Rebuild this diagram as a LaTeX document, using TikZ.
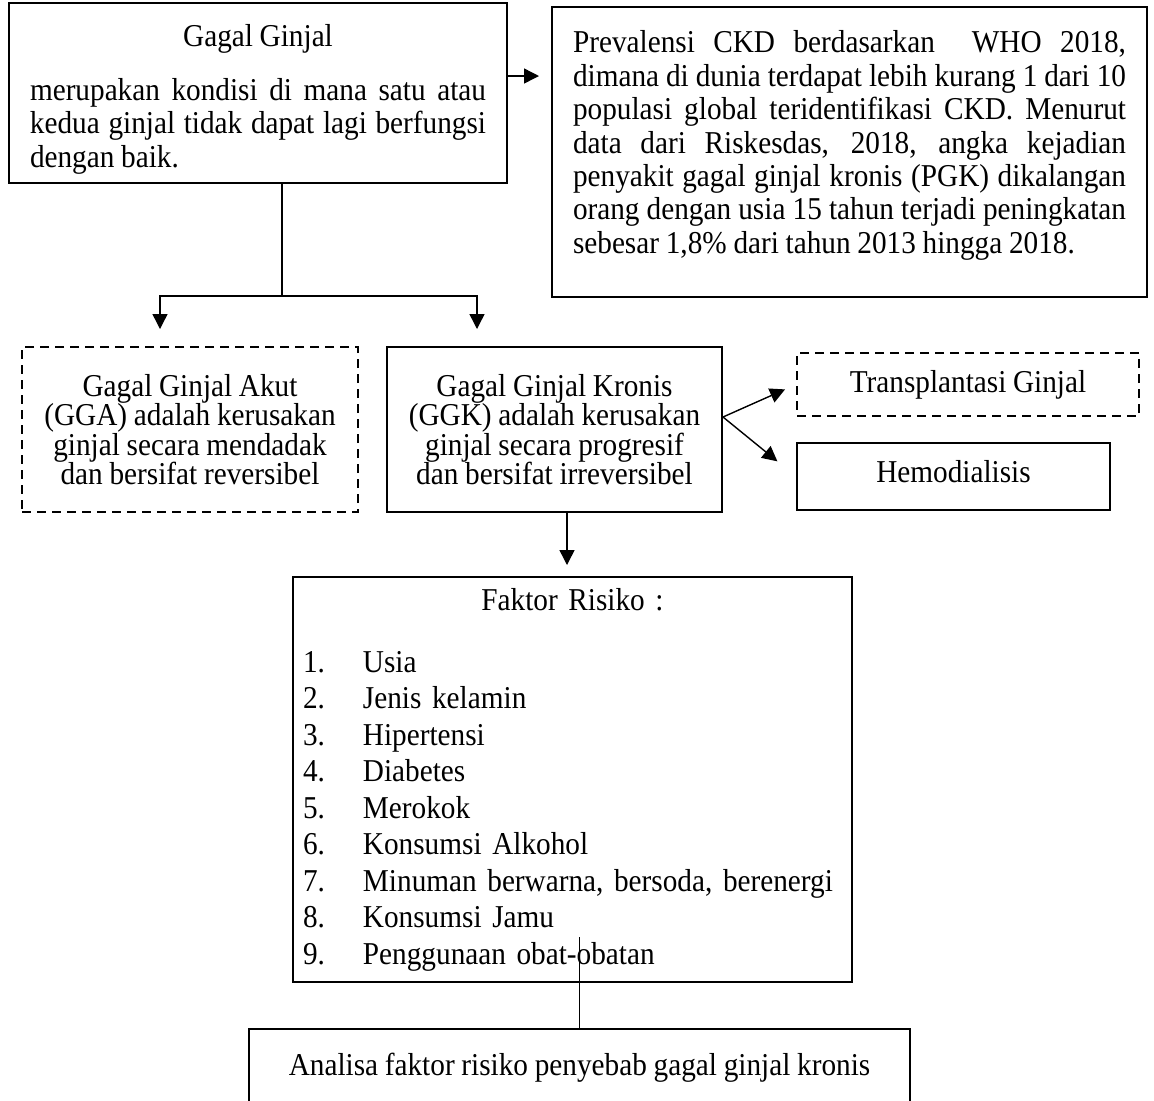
\documentclass[tikz,border=0pt]{standalone}
\usepackage{fontspec}
\setmainfont{Liberation Serif}[FakeStretch=0.92, WordSpace=0.92]
\usetikzlibrary{arrows.meta}

\newcommand{\riskitem}[2]{\makebox[30pt][l]{#1.}#2\par}

\tikzset{
  box/.style={draw, line width=1pt, inner sep=0pt, font=\fontsize{15.9}{16.7}\selectfont},
  dashbox/.style={box, dash pattern=on 4.5pt off 3pt},
  arr/.style={-{Triangle[width=7.5pt,length=7.5pt]}, line width=0.7pt},
}

\begin{document}
\begin{tikzpicture}[x=0.5pt, y=-0.5pt]
  \clip (0,0) rectangle (1154,1100);
  \hyphenpenalty=10000
  % top row
  \node[box, minimum width=249pt, minimum height=90pt, text width=228pt, align=justify] (gg) at (258,93)
    {\hrule height0pt\vspace{6pt}{\centering Gagal Ginjal\par}\vspace{10.3pt}merupakan kondisi di mana satu atau\linebreak
     kedua ginjal tidak dapat lagi berfungsi\linebreak dengan baik.};
  \node[box, minimum width=297.5pt, minimum height=145pt, text width=276.5pt, align=justify] (prev) at (849.5,152)
    {Prevalensi CKD berdasarkan \ WHO 2018,\linebreak
     dimana di dunia terdapat lebih kurang 1 dari 10\linebreak
     populasi global teridentifikasi CKD. Menurut\linebreak
     data dari Riskesdas, 2018, angka kejadian\linebreak
     penyakit gagal ginjal kronis (PGK) dikalangan\linebreak
     orang dengan usia 15 tahun terjadi peningkatan\linebreak
     sebesar 1,8\% dari tahun 2013 hingga 2018.\par\vspace{6.5pt}\hrule height0pt};
  % second row
  \node[dashbox, minimum width=168pt, minimum height=82.5pt, align=center,
        font=\fontsize{15.9}{14.75}\selectfont] (gga) at (190,429.5)
    {Gagal Ginjal Akut\\(GGA) adalah kerusakan\\ginjal secara mendadak\\dan bersifat reversibel};
  \node[box, minimum width=167.5pt, minimum height=82.5pt, align=center,
        font=\fontsize{15.9}{14.75}\selectfont] (ggk) at (554.5,429.5)
    {Gagal Ginjal Kronis\\(GGK) adalah kerusakan\\ginjal secara progresif\\dan bersifat irreversibel};
  \node[dashbox, minimum width=171pt, minimum height=31.5pt] (tx) at (968,384.5) {Transplantasi Ginjal};
  \node[box, minimum width=156.5pt, minimum height=33.5pt, text depth=5pt] (hd) at (953.5,476.5) {Hemodialisis};
  % risk factors
  \node[box, minimum width=279.5pt, minimum height=202.5pt, text width=269.5pt, align=left,
        font=\fontsize{15.9}{18.25}\selectfont] (fr) at (572.5,779.5)
    {{\centering Faktor Risiko :\par}\vspace{12.75pt}%
     \riskitem{1}{Usia}
     \riskitem{2}{Jenis kelamin}
     \riskitem{3}{Hipertensi}
     \riskitem{4}{Diabetes}
     \riskitem{5}{Merokok}
     \riskitem{6}{Konsumsi Alkohol}
     \riskitem{7}{Minuman berwarna, bersoda, berenergi}
     \riskitem{8}{Konsumsi Jamu}
     \riskitem{9}{Penggunaan obat-obatan}};
  \node[box, anchor=north, minimum width=330.5pt, inner ysep=12.5pt, text height=10.5pt, text depth=60pt] (an)
    at (579.5,1028) {Analisa faktor risiko penyebab gagal ginjal kronis};
  % connectors
  \coordinate (ab) at ([yshift=8.5pt]gg.east);
  \draw[arr, shorten >=6pt] (ab) -- (prev.west |- ab);
  \coordinate (fork) at (282,296);
  \draw[line width=0.7pt] (gg.south -| fork) -- (fork);
  \draw[arr, shorten >=8.5pt] (fork) -| ([xshift=-15pt]gga.north);
  \draw[arr, shorten >=8.5pt] (fork) -| ([xshift=-38.75pt]ggk.north);
  \coordinate (kr) at ([yshift=6.25pt]ggk.east);
  \draw[arr, shorten >=6pt] (kr) -- (tx.west);
  \draw[arr, shorten >=12pt] (kr) -- (hd.west);
  \draw[arr, shorten >=5.5pt] ([xshift=6.25pt]ggk.south) -- ([xshift=6.25pt]ggk.south |- fr.north);
  \coordinate (fa) at (579.5,937);
  \draw[line width=0.5pt] (fa) -- (an.north);
\end{tikzpicture}
\end{document}
